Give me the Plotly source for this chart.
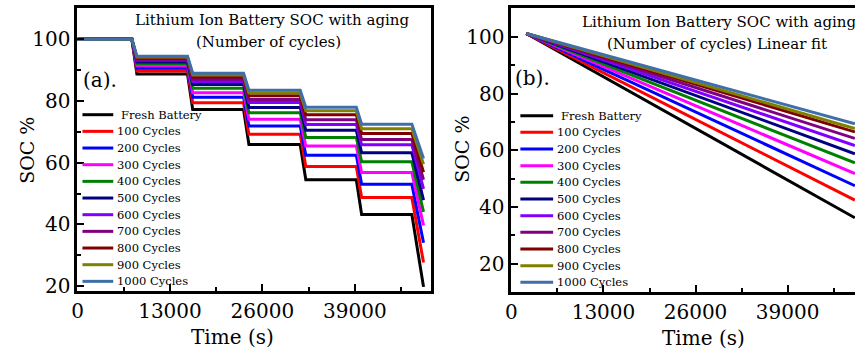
import plotly.graph_objects as go

# ---------------- data ----------------
names = ["Fresh Battery", "100 Cycles", "200 Cycles", "300 Cycles", "400 Cycles",
         "500 Cycles", "600 Cycles", "700 Cycles", "800 Cycles", "900 Cycles", "1000 Cycles"]
colors = ["#000000", "#FF0000", "#0000FF", "#FF00FF", "#008000", "#000080",
          "#8000FF", "#800080", "#800000", "#808000", "#3F6FA8"]

# Panel (a): stepped SOC profile (time in s)
time_a = [0, 7650, 8350, 15470, 16200, 23350, 24100, 31310, 32100, 39200, 39950, 47010, 48650]
soc_fresh = [100, 100, 88.7, 88.7, 77.2, 77.2, 65.9, 65.9, 54.5, 54.5, 43.2, 43.2, 19.8]
soc_100 = [100, 100, 89.7, 89.7, 79.4, 79.4, 69.2, 69.2, 58.8, 58.8, 48.7, 48.7, 27.7]
soc_200 = [100, 100, 90.6, 90.6, 81.2, 81.2, 71.9, 71.9, 62.4, 62.4, 53.0, 53.0, 34.1]
soc_300 = [100, 100, 91.4, 91.4, 82.7, 82.7, 74.1, 74.1, 65.4, 65.4, 56.8, 56.8, 39.7]
soc_400 = [100, 100, 92.1, 92.1, 84.1, 84.1, 76.2, 76.2, 68.2, 68.2, 60.3, 60.3, 44.1]
soc_500 = [100, 100, 92.6, 92.6, 85.3, 85.3, 77.9, 77.9, 70.5, 70.5, 63.2, 63.2, 47.9]
soc_600 = [100, 100, 93.2, 93.2, 86.3, 86.3, 79.5, 79.5, 72.4, 72.4, 65.8, 65.8, 51.5]
soc_700 = [100, 100, 93.5, 93.5, 87.0, 87.0, 80.5, 80.5, 73.9, 73.9, 67.5, 67.5, 54.5]
soc_800 = [100, 100, 93.9, 93.9, 87.8, 87.8, 81.7, 81.7, 75.5, 75.5, 69.5, 69.5, 56.9]
soc_900 = [100, 100, 94.2, 94.2, 88.4, 88.4, 82.6, 82.6, 76.8, 76.8, 71.0, 71.0, 59.5]
soc_1000 = [100, 100, 94.5, 94.5, 89.0, 89.0, 83.5, 83.5, 78.0, 78.0, 72.5, 72.5, 61.4]

# Panel (b): linear fits (start / end points)
time_b = [2100, 48500]
fit_fresh = [101.2, 36.2]
fit_100 = [101.2, 42.4]
fit_200 = [101.2, 47.5]
fit_300 = [101.2, 51.8]
fit_400 = [101.2, 55.6]
fit_500 = [101.2, 58.8]
fit_600 = [101.2, 61.7]
fit_700 = [101.2, 64.2]
fit_800 = [101.2, 66.5]
fit_900 = [101.2, 67.7]
fit_1000 = [101.2, 69.4]

x_ticks = [0, 13000, 26000, 39000]
x_tick_labels = ["0", "13000", "26000", "39000"]
y_ticks = [20, 40, 60, 80, 100]

series_a = [soc_fresh, soc_100, soc_200, soc_300, soc_400, soc_500,
            soc_600, soc_700, soc_800, soc_900, soc_1000]
series_b = [fit_fresh, fit_100, fit_200, fit_300, fit_400, fit_500,
            fit_600, fit_700, fit_800, fit_900, fit_1000]

# ---------------- figure ----------------
W, H = 855, 356
FONT = "DejaVu Serif"


def px(x):
    return x / W


def py(y):
    return 1 - y / H


fig = go.Figure()
for name, color, ys in zip(names, colors, series_a):
    fig.add_trace(go.Scatter(x=time_a, y=ys, mode="lines", name=name,
                             line=dict(color=color, width=3),
                             xaxis="x", yaxis="y", showlegend=False))
for name, color, ys in zip(names, colors, series_b):
    fig.add_trace(go.Scatter(x=time_b, y=ys, mode="lines", name=name,
                             line=dict(color=color, width=3),
                             xaxis="x2", yaxis="y2", showlegend=False))

axis_common = dict(showline=True, linewidth=3, linecolor="black", ticks="inside",
                   ticklen=7, tickwidth=2, tickcolor="black", showgrid=False,
                   zeroline=False, tickfont=dict(family=FONT, size=20, color="black"))
minor_x = dict(dtick=6500, tick0=0, ticks="inside", ticklen=4, tickwidth=2, tickcolor="black")
minor_y = dict(dtick=10, tick0=0, ticks="inside", ticklen=4, tickwidth=2, tickcolor="black")

fig.update_layout(
    width=W, height=H, margin=dict(l=0, r=0, t=0, b=0),
    paper_bgcolor="white", plot_bgcolor="white", showlegend=False,
    xaxis=dict(domain=[px(72), px(428)], range=[0, 49700], tickvals=x_ticks,
               ticktext=x_tick_labels, mirror=True, minor=minor_x, anchor="y", **axis_common),
    yaxis=dict(domain=[py(297), py(8)], range=[18.41, 110.16], tickvals=y_ticks,
               mirror=True, minor=minor_y, anchor="x", **axis_common),
    xaxis2=dict(domain=[px(509), 1.0], range=[0, 48520], tickvals=x_ticks,
                ticktext=x_tick_labels, mirror=True, minor=minor_x, anchor="y2", **axis_common),
    yaxis2=dict(domain=[py(298), py(8)], range=[9.97, 110.27], tickvals=y_ticks,
                mirror=False, minor=minor_y, anchor="x2", **axis_common),
)

annotations = []
shapes = []


def text(t, x, y, size, xanchor="center", textangle=0):
    annotations.append(dict(text=t, x=px(x), y=py(y), xref="paper", yref="paper",
                            xanchor=xanchor, yanchor="middle", showarrow=False,
                            textangle=textangle,
                            font=dict(family=FONT, size=size, color="black")))


# titles
text("Lithium Ion Battery SOC with aging", 268, 20, 15)
text("(Number of cycles)", 264, 43, 15)
text("Lithium Ion Battery SOC with aging", 578, 22, 15, xanchor="left")
text("(Number of cycles) Linear fit", 716, 45, 15)
# panel labels
text("(a).", 76, 82, 20, xanchor="left")
text("(b).", 511, 80, 20, xanchor="left")
# axis titles
text("Time (s)", 228, 344, 20)
text("Time (s)", 702, 345, 20)
text("SOC %", 21, 153, 19, textangle=-90)
text("SOC %", 459, 152, 19, textangle=-90)

# legends (drawn manually to match the compact row spacing)
for panel_x0, panel_x1, text_x, y0 in [(77, 108, 110, 117), (518, 551, 553, 118)]:
    for i, (name, color) in enumerate(zip(names, colors)):
        yy = y0 + 17 * i
        shapes.append(dict(type="line", xref="paper", yref="paper",
                           x0=px(panel_x0), x1=px(panel_x1), y0=py(yy), y1=py(yy),
                           line=dict(color=color, width=3)))
        tx = text_x + (4 if i == 0 else 0)
        text(name, tx, yy, 11.5, xanchor="left")

fig.update_layout(annotations=annotations, shapes=shapes)
fig.write_html("out.html")
